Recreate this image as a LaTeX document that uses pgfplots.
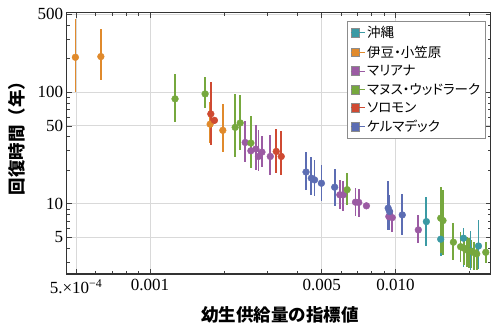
\documentclass[border=0pt]{standalone}
\usepackage{fontspec}
\usepackage{pgfplots}
\pgfplotsset{compat=1.18}
\setmainfont{Liberation Serif}
\newfontfamily\jp{Noto Sans CJK JP}[RawFeature=+palt]
\newfontfamily\jpl{Noto Sans CJK JP}
\definecolor{cOki}{HTML}{3B9AA4}
\definecolor{cIzu}{HTML}{E08A2C}
\definecolor{cMar}{HTML}{9B5BA3}
\definecolor{cMan}{HTML}{76A83E}
\definecolor{cSol}{HTML}{CF4A32}
\definecolor{cKer}{HTML}{5C6DB3}

\pgfplotstableread{
x y ep em
1.335e-2 6.93 4.70 2.74
1.527e-2 4.82 2.36 1.41
1.89e-2 4.92 1.13 2.19
2.02e-2 3.80 1.90 1.25
2.176e-2 4.19 2.99 1.60
}\okinawa
\pgfplotstableread{
x y ep em
4.97e-4 206 250 106
6.31e-4 209 157 81
1.758e-3 51.8 30 17
1.98e-3 45.6 33 16.7
}\izu
\pgfplotstableread{
x y ep em
2.442e-3 35.5 19.4 11.8
2.576e-3 29.9 11.8 9.0
2.70e-3 31.0 20.3 10.8
2.767e-3 26.6 19.6 7.1
2.857e-3 29.1 11.7 7.5
3.09e-3 26.6 15.1 8.4
5.93e-3 12.05 4.35 3.09
6.12e-3 12.05 3.85 3.35
6.87e-3 10.35 3.45 2.55
7.08e-3 10.3 3.3 2.7
7.61e-3 9.6 0.3 0.3
9.39e-3 7.69 3.16 1.59
9.69e-3 7.53 1.3 1.89
1.238e-2 5.84 2.12 1.35
}\mariana
\pgfplotstableread{
x y ep em
1.265e-3 87.3 58.7 33.1
1.677e-3 96.7 40.8 24.3
2.223e-3 48.5 48.2 22.2
2.33e-3 53.1 42.2 23.0
2.576e-3 35.1 26.7 14.2
6.35e-3 13.4 5.5 3.6
1.527e-2 7.44 6.86 3.83
1.56e-2 7.08 6.32 3.60
1.72e-2 4.53 2.18 1.39
1.84e-2 4.13 1.51 1.10
1.90e-2 4.00 1.27 1.17
1.95e-2 3.86 1.19 1.14
1.99e-2 3.78 1.17 1.12
2.04e-2 3.73 1.02 1.07
2.09e-2 3.65 0.90 1.10
2.14e-2 3.56 0.90 1.01
2.33e-2 3.68 0.90 0.75
}\manus
\pgfplotstableread{
x y ep em
1.769e-3 64 59 30.1
1.83e-3 56 4 4
3.268e-3 29.5 17.4 10.6
3.425e-3 26.6 18 8.4
}\solomon
\pgfplotstableread{
x y ep em
4.32e-3 19.3 9.6 5.9
4.54e-3 17.0 9.3 4.95
4.68e-3 16.4 8.4 4.6
4.99e-3 15.3 7.1 4.6
5.65e-3 14.1 6.4 4.5
9.33e-3 9.15 6.75 3.31
9.45e-3 8.53 3.52 2.69
1.065e-2 7.96 4.34 2.69
}\kermadec

\begin{document}
\begin{tikzpicture}
\begin{axis}[scale only axis,width=424pt,height=261.3pt,
xmode=log,ymode=log,
xmin=4.58e-4,xmax=0.0244,ymin=2.35,ymax=517,
xtick={5e-4,0.001,0.005,0.01},
xticklabels={5.×10\textsuperscript{−4},0.001,0.005,0.010},
ytick={5,10,50,100,500},yticklabels={5,10,50,100,500},
minor xtick={6e-4,7e-4,8e-4,9e-4,0.002,0.003,0.004,0.006,0.007,0.008,0.009,0.02},
minor ytick={3,4,6,7,8,9,20,30,40,60,70,80,90,200,300,400},
tick align=inside,major tick length=5pt,minor tick length=3pt,
tick style={black!75,line width=0.7pt},
axis line style={black!80,line width=1.1pt},
grid=major,major grid style={black!15,line width=0.8pt},
ticklabel style={font=\fontsize{17}{17}\selectfont},
xticklabel style={yshift=-2pt},
xlabel={\jpl\bfseries 幼生供給量の指標値},
ylabel={\jpl\bfseries 回復時間（年）},
label style={font=\fontsize{17.5}{18}\selectfont},
xlabel style={at={(axis description cs:0.503,-0.157)},anchor=center},
ylabel style={at={(axis description cs:-0.118,0.536)},anchor=center},
error bars/y dir=both,error bars/y explicit,error bars/error mark=none,
error bars/error bar style={line width=1.8pt},
legend cell align=left,
legend style={at={(axis description cs:0.661,0.968)},anchor=north west,
draw=black!45,line width=0.8pt,fill=white,
font=\jp\fontsize{13.5}{14}\selectfont,
row sep=2.4pt,inner xsep=3pt,inner ysep=3pt},
legend image code/.code={\draw[#1,draw=black!45,line width=0.4pt,fill]
(0pt,-4.4pt) rectangle (8.8pt,4.4pt);\path (0pt,0pt) -- (14pt,0pt);},
]
\addplot[color=cOki,only marks,mark=*,mark size=3.4pt] table[x=x,y=y,y error plus=ep,y error minus=em]{\okinawa};
\addlegendentry{沖縄}
\addplot[color=cIzu,only marks,mark=*,mark size=3.4pt] table[x=x,y=y,y error plus=ep,y error minus=em]{\izu};
\addlegendentry{伊豆・小笠原}
\addplot[color=cMar,only marks,mark=*,mark size=3.4pt] table[x=x,y=y,y error plus=ep,y error minus=em]{\mariana};
\addlegendentry{マリアナ}
\addplot[color=cMan,only marks,mark=*,mark size=3.4pt] table[x=x,y=y,y error plus=ep,y error minus=em]{\manus};
\addlegendentry{マヌス・ウッドラーク}
\addplot[color=cSol,only marks,mark=*,mark size=3.4pt] table[x=x,y=y,y error plus=ep,y error minus=em]{\solomon};
\addlegendentry{ソロモン}
\addplot[color=cKer,only marks,mark=*,mark size=3.4pt] table[x=x,y=y,y error plus=ep,y error minus=em]{\kermadec};
\addlegendentry{ケルマデック}
\end{axis}
\path[use as bounding box] (-66.7pt,-56pt) rectangle (433.3pt,274pt);
\end{tikzpicture}
\end{document}
